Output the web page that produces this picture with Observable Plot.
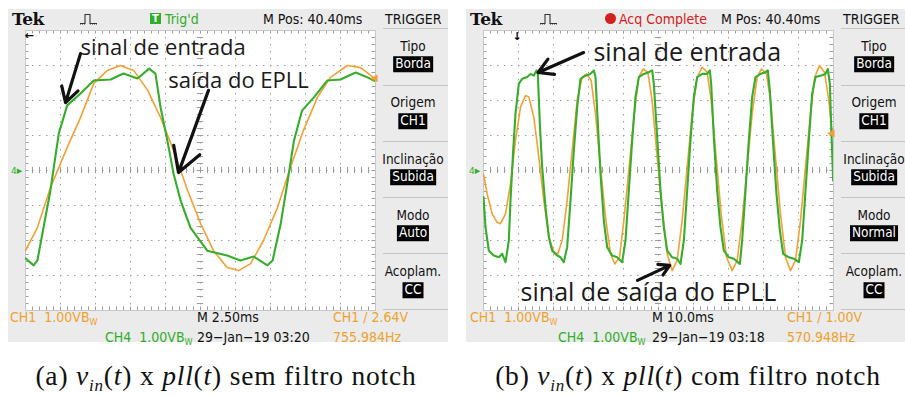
<!DOCTYPE html>
<html><head><meta charset="utf-8">
<script src="https://cdn.jsdelivr.net/npm/d3@7"></script>
<script src="https://cdn.jsdelivr.net/npm/@observablehq/plot@0.6"></script>
<style>
body{margin:0;background:#fff;}
#root{position:relative;width:905px;height:396px;overflow:hidden;background:#fff;}
.panel{position:absolute;background:#ebebeb;}
.t{position:absolute;white-space:nowrap;line-height:1;font-family:"Liberation Sans Narrow","DejaVu Sans Condensed",sans-serif;font-size:14px;color:#111;}
.box{background:#000;color:#fff;padding:1px 2px 1px 2px;}
.sep{position:absolute;height:1px;background:#c4c4c4;}
.sub{font-size:9px;position:relative;top:3px;}
.cap{position:absolute;top:378px;transform:translate(-50%,-50%);white-space:nowrap;font-family:"Liberation Serif","DejaVu Serif",serif;font-size:27.5px;letter-spacing:0.8px;color:#111;}
.cap sub{font-size:17px;font-style:italic;}
.plotwrap{position:absolute;}
</style>
</head><body>
<div id="root"></div>
<script>
// ---------- DATA ----------
// (a) sem filtro notch — M 2.50 ms/div, 1.00 V/div
const tA_in  = [0,0.58,0.85,1.78,2.38,2.98,3.93,4.88,6.08,7.0,8.0,8.83,9.28,9.65,10.13,10.58,11.08,11.78,12.98,14.4,15.35,16.3,17.28,17.65,18.23,18.73,19.18,19.75,20.6,21.55,22.5,23.58,24.43,25];
const vA_in  = [-2.51,-2.71,-2.57,-0.57,1.06,1.86,2.2,2.57,2.6,2.77,2.63,2.91,2.77,1.8,0.86,-0.1,-0.86,-1.63,-2.29,-2.43,-2.57,-2.46,-2.71,-2.57,-1.52,-0.29,0.86,1.71,2.09,2.57,2.6,2.8,2.66,2.55];
const tA_pll = [0,0.85,1.78,2.98,3.93,4.88,5.85,6.78,7.73,8.73,9.65,10.58,11.58,12.5,13.43,14.4,15.23,16.08,17.0,18.0,18.93,19.85,20.85,21.78,23.0,23.93,24.5,25];
const vA_pll = [-2.29,-1.63,-0.49,0.66,1.51,2.49,2.86,3.0,2.86,2.29,1.51,0.57,-0.57,-1.51,-2.29,-2.77,-2.86,-2.66,-2.0,-1.06,0.09,1.14,2.09,2.66,3.0,2.94,2.77,2.6];
// (b) com filtro notch — M 10.0 ms/div, 1.00 V/div
const tB_in  = [0,0.57,1.52,2.95,4.38,5.33,6.29,7.24,7.71,8.48,9.14,10.1,11.05,12.48,13.43,14.38,15.14,15.52,16.1,16.76,17.71,18.67,19.62,21.05,22.0,22.95,23.9,24.86,25.81,26.76,27.71,29.14,30.57,31.52,32.0,32.67,33.43,34.38,35.33,36.76,38.19,39.62,40.57,41.52,42.48,43.43,44.38,45.81,47.24,48.19,48.67,49.62,50.57,51.52,52.48,53.9,55.33,56.29,57.24,58.19,59.14,60.1,61.05,62.48,63.9,64.67,65.05,65.81,66.76,67.71,68.67,70.1,71.52,73.24,73.9,74.86,75.81,76.76,77.71,79.14,80.57,81.24,81.81,82.76,83.71,84.67,85.62,87.24,88.67,90.1,91.05,92.0,92.95,93.9,94.86,96.29,97.71,98.38,98.95,99.33,99.9];
const vB_in  = [-0.76,-1.62,-2.29,-2.43,-2.48,-2.38,-2.62,-2.0,-0.86,0.57,1.62,2.48,2.62,2.67,2.76,2.71,2.86,2.76,1.33,0.1,-1.05,-1.9,-2.29,-2.43,-2.48,-2.62,-2.19,-0.86,0.57,1.81,2.62,2.71,2.76,2.86,2.67,1.33,-0.1,-1.43,-2.19,-2.43,-2.48,-2.62,-2.0,-0.57,0.86,2.1,2.67,2.76,2.81,2.86,2.48,0.95,-0.57,-1.62,-2.29,-2.48,-2.52,-2.67,-2.0,-0.57,0.86,2.1,2.67,2.76,2.76,2.86,2.48,0.95,-0.57,-1.62,-2.29,-2.48,-2.52,-2.67,-2.0,-0.57,0.86,2.1,2.67,2.76,2.81,2.86,2.29,0.76,-0.67,-1.71,-2.38,-2.48,-2.52,-2.62,-2.0,-0.57,0.86,2.19,2.67,2.71,2.76,2.9,2.48,1.33,-0.29];
const tB_pll = [0,1.05,2.48,3.9,4.86,6.29,7.71,9.14,10.57,12.0,12.95,14.38,15.81,17.24,18.67,20.1,21.24,22.48,23.9,25.33,26.76,28.19,29.43,30.76,32.0,33.43,34.86,36.29,37.52,38.86,40.1,41.52,42.95,44.38,45.62,46.95,48.19,49.62,51.05,52.48,53.9,55.33,56.76,58.19,59.62,61.05,62.48,63.9,65.05,66.48,67.9,69.43,71.05,72.48,73.9,75.33,76.76,78.19,79.43,80.86,82.0,83.43,84.86,86.29,87.71,89.14,90.57,92.0,93.43,94.67,96.0,97.43,98.67,99.62];
const vB_pll = [-0.1,-0.67,-1.24,-1.48,-1.52,-1.24,-0.38,0.86,1.81,2.14,2.1,1.52,0.38,-0.86,-1.9,-2.33,-2.38,-2.0,-0.86,0.57,2.0,2.67,2.76,2.57,1.62,0.1,-1.33,-2.38,-2.67,-2.48,-1.43,0.0,1.52,2.67,2.9,2.81,2.0,0.38,-1.14,-2.38,-2.86,-2.57,-1.43,0.1,1.62,2.67,2.95,2.81,2.0,0.38,-1.24,-2.48,-2.86,-2.57,-1.43,0.1,1.62,2.67,2.9,2.76,2.0,0.38,-1.24,-2.48,-2.86,-2.57,-1.43,0.1,1.62,2.67,3.0,2.81,2.0,1.05];

// ---------- TEXTS ----------
const menuLabels = ["Tipo","Origem","Inclinação","Modo","Acoplam."];
const menuA = ["Borda","CH1","Subida","Auto","CC"];
const menuB = ["Borda","CH1","Subida","Normal","CC"];
const statusA = {scale:"M 2.50ms", date:"29\u2212Jan\u221219 03:20", trig:"CH1 / 2.64V", freq:"755.984Hz", mpos:"M Pos: 40.40ms"};
const statusB = {scale:"M 10.0ms", date:"29\u2212Jan\u221219 03:18", trig:"CH1 / 1.00V", freq:"570.948Hz", mpos:"M Pos: 40.40ms"};
const annA = [{t:3.93,v:3.5,label:"sinal de entrada",size:22},{t:10.2,v:2.57,label:"saída do EPLL",size:22}];
const arrowsA = [{t1:3.93,v1:3.34,t2:2.86,v2:1.94},{t1:13.07,v1:2.29,t2:10.93,v2:-0.06}];
const annB = [{t:31.4,v:3.37,label:"sinal de entrada",size:25},{t:10.6,v:-3.5,label:"sinal de saída do EPLL",size:25}];
const arrowsB = [{t1:28.6,v1:3.37,t2:15.6,v2:2.8},{t1:44.0,v1:-3.14,t2:53.2,v2:-2.71}];

const GREEN = "#36ad2c", ORANGE = "#f2a134", OTXT = "#f0a22e", GTXT = "#2fae2a";

const root = document.getElementById("root");
function el(parent, cls, x, y, html, style){
  const d=document.createElement("div"); d.className=cls;
  d.style.left=x+"px"; d.style.top=y+"px";
  if(style) Object.assign(d.style, style);
  d.innerHTML=html; parent.appendChild(d); return d;
}
function T(p,x,y,html,style){ return el(p,"t",x,y,html,Object.assign({transform:"translateY(-50%)"},style||{})); }
function TC(p,x,y,html,style){ return el(p,"t",x,y,html,Object.assign({transform:"translate(-50%,-50%)"},style||{})); }

function scopePlot(tmax, tIn, vIn, tPll, vPll, ann, arrows){
  const div=tmax/10, sub=div/5;
  const gx=d3.range(1,10).map(k=>k*div);
  const gy=d3.range(-3,4);
  const sx=d3.range(0,51).map(k=>k*sub);
  const sy=d3.range(0,41).map(k=>-4+k*0.2);
  const dIn=tIn.map((t,i)=>({t,v:vIn[i]}));
  const dPll=tPll.map((t,i)=>({t,v:vPll[i]}));
  const g="#9c9c9c";
  return Plot.plot({
    width:350,height:280,margin:0,
    x:{domain:[0,tmax],axis:null},
    y:{domain:[-4,4],axis:null},
    style:{background:"#fff",overflow:"visible"},
    marks:[
      Plot.ruleX(gx,{stroke:g,strokeDasharray:"1.5,5.5"}),
      Plot.ruleY(gy,{stroke:g,strokeDasharray:"1.5,5.5"}),
      Plot.ruleX(sx,{y1:-0.09,y2:0.09,stroke:g}),
      Plot.ruleY(sy,{x1:tmax/2-0.09*div,x2:tmax/2+0.09*div,stroke:g}),
      Plot.ruleX(sx,{y1:4,y2:3.9,stroke:g}),
      Plot.ruleX(sx,{y1:-4,y2:-3.9,stroke:g}),
      Plot.ruleY(sy,{x1:0,x2:0.1*div,stroke:g}),
      Plot.ruleY(sy,{x1:tmax,x2:tmax-0.1*div,stroke:g}),
      Plot.frame({stroke:"#c8c8c8"}),
      Plot.line(dPll,{x:"t",y:"v",stroke:ORANGE,strokeWidth:1.6,clip:true}),
      Plot.line(dIn,{x:"t",y:"v",stroke:GREEN,strokeWidth:2.1,clip:true}),
      Plot.arrow(arrows,{x1:"t1",y1:"v1",x2:"t2",y2:"v2",stroke:"#111",strokeWidth:3.2,headLength:13}),
      Plot.text(ann,{x:"t",y:"v",text:"label",textAnchor:"start",fontSize:d=>d.size,fontFamily:"Open Sans",fill:"#1a1a1a"})
    ]
  });
}

function panel(x, w, cfg){
  const p=document.createElement("div"); p.className="panel";
  Object.assign(p.style,{left:x+"px",top:"9px",width:w+"px",height:"333px"});
  root.appendChild(p);
  // top bar
  T(p,4,10,"Tek",{fontFamily:"DejaVu Serif",fontWeight:"bold",fontSize:"17px",letterSpacing:"-0.5px"});
  const ic=document.createElementNS("http://www.w3.org/2000/svg","svg");
  ic.setAttribute("width","18");ic.setAttribute("height","12");
  ic.style.position="absolute";ic.style.left=(cfg.pulseX)+"px";ic.style.top="4px";
  ic.innerHTML='<path d="M0 10.5H5V1.5H10V10.5H17" fill="none" stroke="#333" stroke-width="1.1" /><path d="M0 11H5M10 11H17" stroke="#333" stroke-width="1" stroke-dasharray="1,1"/>';
  p.appendChild(ic);
  cfg.status(p);
  T(p,255,10,cfg.s.mpos,{fontSize:"14px"});
  T(p,377,10,"TRIGGER",{fontSize:"14px"});
  el(p,"sep",375,19,"",{width:(w-375)+"px"});
  // menu
  const cx=cfg.menuX;
  const ly=[38,94,151,207,263], by=[55,112,168,224,281], sy=[76,132,188,244,300];
  for(let i=0;i<5;i++){
    TC(p,cx,ly[i],menuLabels[i],{fontSize:"13.5px"});
    const b=TC(p,cx,by[i],cfg.menu[i],{fontSize:"13.5px"}); b.classList.add("box");
    el(p,"sep",375,sy[i],"",{width:(w-375)+"px"});
  }
  // bottom status
  const bw='1.00VB<span class="sub">W</span>';
  T(p,cfg.col0,308,"CH1&nbsp;&nbsp;"+bw,{color:OTXT});
  T(p,cfg.col2,308,cfg.s.scale);
  T(p,cfg.col3,308,cfg.s.trig,{color:OTXT});
  T(p,cfg.col1,328,"CH4&nbsp;&nbsp;"+bw,{color:GTXT});
  T(p,cfg.col2,328,cfg.s.date);
  T(p,cfg.col3,328,cfg.s.freq,{color:OTXT});
  // plot
  const wrap=document.createElement("div"); wrap.className="plotwrap";
  Object.assign(wrap.style,{left:"17px",top:"21px",width:"350px",height:"280px"});
  wrap.appendChild(cfg.plot);
  p.appendChild(wrap);
  // markers
  T(p,3,161,'<span style="font-size:9px">4</span>&#9656;',{color:GREEN,fontSize:"11px",fontFamily:"DejaVu Sans"});
  T(p,cfg.trigMark[0],cfg.trigMark[1],"&#9664;",{color:ORANGE,fontSize:"10px",fontFamily:"DejaVu Sans"});
  TC(p,cfg.posMark[0],cfg.posMark[1],cfg.posMark[2],{color:"#000",fontSize:"11px",fontFamily:"DejaVu Sans",fontWeight:"bold"});
  return p;
}

const plotA=scopePlot(25,tA_in,vA_in,tA_pll,vA_pll,annA,arrowsA);
panel(8,440,{s:statusA,menu:menuA,menuX:405,pulseX:72,col0:2,col1:97,col2:189,col3:325,plot:plotA,
  trigMark:[362,69],posMark:[21,26,"&#8592;"],
  status:(p)=>{
    el(p,"t",142,4,"T",{width:"11px",height:"11px",background:"#2fae2a",color:"#fff",fontSize:"10px",fontWeight:"bold",textAlign:"center",lineHeight:"11px",fontFamily:"DejaVu Sans"});
    T(p,157,10,"Trig'd",{color:GTXT});
  }});
const plotB=scopePlot(100,tB_in,vB_in,tB_pll,vB_pll,annB,arrowsB);
panel(466,439,{s:statusB,menu:menuB,menuX:408,pulseX:74,col0:4,col1:92,col2:186,col3:321,plot:plotB,
  trigMark:[361,124],posMark:[51,27,"&#8595;"],
  status:(p)=>{
    el(p,"t",139,4,"",{width:"11px",height:"11px",borderRadius:"50%",background:"#d42020"});
    T(p,153,10,"Acq Complete",{color:"#d42020"});
  }});

// captions
el(root,"cap",226,0,'(a) <i>v</i><sub>in</sub>(<i>t</i>) x <i>pll</i>(<i>t</i>) sem filtro notch',{top:"378px"});
el(root,"cap",688,0,'(b) <i>v</i><sub>in</sub>(<i>t</i>) x <i>pll</i>(<i>t</i>) com filtro notch',{top:"378px"});
</script>
</body></html>
